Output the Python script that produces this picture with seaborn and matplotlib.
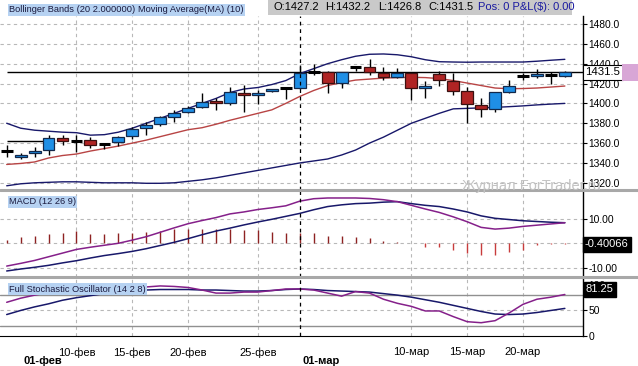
import numpy as np
import pandas as pd
import matplotlib
matplotlib.use("Agg")
import matplotlib.pyplot as plt
import matplotlib.transforms as mtrans
from matplotlib.lines import Line2D
from matplotlib.patches import Rectangle
import seaborn as sns

# ---------------- data ----------------
opens = [1352, 1346, 1350, 1353, 1364.8, 1362.4, 1362.8, 1359.4, 1360.8, 1366.8,
         1374.9, 1379.2, 1386.6, 1391.6, 1396.2, 1402.7, 1400, 1410.8, 1408.2, 1412.2,
         1415.2, 1415.2, 1431.8, 1432, 1420.3, 1437, 1437, 1430.3, 1426.3, 1430.3,
         1415.2, 1429.6, 1422.6, 1412.5, 1398.1, 1394, 1411.8, 1427.6, 1427.6, 1429, 1427.2]
highs = [1358, 1349.7, 1355.8, 1368, 1368, 1368, 1366.5, 1360, 1367, 1376.5,
         1381.6, 1387.3, 1393.4, 1397.4, 1410.2, 1405.1, 1416.8, 1418.5, 1413.5, 1415,
         1416.2, 1438.7, 1439.7, 1433, 1431.8, 1437.7, 1444.4, 1436.4, 1435.4, 1430.8,
         1422.9, 1432.6, 1430.3, 1416.8, 1405.1, 1411.8, 1423.6, 1431, 1434.4, 1432, 1432.2]
lows = [1346, 1344.3, 1345.7, 1348, 1358, 1351.3, 1354.8, 1353.7, 1357, 1363.8,
        1368.2, 1377.2, 1381.6, 1390, 1395.5, 1393.4, 1398.4, 1391.6, 1399.4, 1411,
        1404.1, 1414.2, 1428.6, 1410.2, 1415.2, 1433, 1428.6, 1423.6, 1425.3, 1403,
        1405.1, 1417.8, 1408.5, 1380.6, 1386.6, 1391.6, 1410.2, 1423.6, 1425.3, 1419.2, 1426.8]
closes = [1352, 1348.3, 1352.4, 1364.8, 1362, 1362.4, 1357.8, 1359.4, 1365.8, 1373.9,
          1377.9, 1386, 1390.6, 1395.4, 1401.7, 1400, 1411.8, 1408.2, 1410.8, 1414.2,
          1415.2, 1430.3, 1431.8, 1420.3, 1431.3, 1437, 1431.3, 1426.3, 1430.3, 1415.2,
          1417.8, 1423.6, 1412.8, 1399.1, 1394, 1411.2, 1417.8, 1427.6, 1429.6, 1429, 1431.5]

bb_upper = [1380, 1375, 1373, 1372, 1371, 1370.5, 1368, 1368.5, 1371, 1375,
            1380, 1385, 1390, 1395, 1400, 1405, 1411, 1414.5, 1416, 1419,
            1423, 1430, 1435, 1440, 1444, 1447.5, 1449.5, 1449.8, 1449, 1447,
            1444, 1442, 1441.7, 1441.5, 1441.7, 1441.7, 1441.7, 1441.7, 1442.5, 1443.5, 1444.4]
bb_lower = [1317, 1319, 1320, 1320.5, 1321, 1321, 1320.5, 1320, 1320, 1320,
            1319.5, 1319.5, 1320, 1321.5, 1323, 1325, 1327.5, 1330, 1332.5, 1335,
            1337.5, 1340, 1342, 1344, 1348, 1353, 1360, 1366, 1373, 1380,
            1385, 1390, 1394.5, 1395, 1395.5, 1396, 1396.7, 1397.5, 1398.5, 1399.3, 1400]
ma10 = [1338.5, 1339.5, 1341, 1345, 1347.5, 1349, 1352, 1354.5, 1357, 1360,
        1363, 1366.5, 1370, 1373.5, 1375.5, 1379, 1383, 1386.5, 1390, 1393.5,
        1400, 1407, 1413, 1418, 1421, 1423.5, 1424.5, 1425.5, 1426, 1426.3,
        1426, 1425, 1423, 1420.5, 1418, 1415.5, 1414.8, 1415, 1415.5, 1416.5, 1417.5]

macd = [-9.3, -8.2, -7.0, -5.5, -4.0, -2.5, -1.6, -0.8, 0.0, 1.3,
        2.7, 4.5, 6.3, 8.0, 9.3, 10.5, 12.0, 12.8, 13.8, 14.5,
        15.3, 17.2, 18.2, 18.5, 18.5, 18.5, 18.3, 17.8, 17.0, 15.5,
        14.0, 12.6, 10.8, 8.8, 6.5, 5.8, 6.2, 6.9, 7.4, 7.9, 8.4]
signal = [-11.3, -10.5, -9.8, -9.0, -8.0, -7.1, -6.0, -5.0, -4.2, -3.3,
          -2.2, -0.9, 0.4, 1.9, 3.5, 5.0, 6.2, 7.5, 8.7, 9.8,
          11.0, 12.2, 13.7, 15.0, 15.7, 16.2, 16.4, 16.8, 17.0, 16.2,
          15.5, 15.0, 14.0, 12.8, 11.2, 10.2, 9.7, 9.2, 8.9, 8.6, 8.4]
hist = [1.4, 2.4, 3.0, 3.8, 4.4, 5.2, 3.8, 3.8, 4.1, 4.4,
        4.8, 5.2, 5.7, 5.7, 5.7, 5.7, 5.7, 5.4, 5.4, 4.8,
        4.4, 4.4, 4.4, 3.1, 3.1, 2.7, 2.0, 1.0, 0.4, 0.1,
        -1.4, -1.6, -2.7, -4.1, -4.9, -4.8, -3.5, -2.7, -0.7, -0.3, -0.40066]

stoch_k = [66, 74, 80, 85, 89, 92, 94, 95, 95, 95,
           96, 98, 97, 95, 90, 84, 84, 86, 86, 89,
           92, 92, 90, 84, 78, 87, 84, 72, 64, 58,
           49, 49, 38, 28, 26, 30, 45, 62, 72, 76, 81.25]
stoch_d = [42, 50, 57, 63, 70, 75, 79, 83, 86, 88,
           90, 91, 91, 91, 90, 90, 89, 88, 88, 89,
           91, 92, 91, 89, 88, 87, 86, 83, 80, 76,
           71, 66, 60, 54, 48, 43, 42, 43, 46, 50, 54]

date_tick_idx = [5, 9, 13, 18, 29, 33, 37]
date_tick_labels = ["10-фев", "15-фев", "20-фев", "25-фев", "10-мар", "15-мар", "20-мар"]
month_idx = [1, 21]
month_labels = ["01-фев", "01-мар"]
price_ticks = [1320, 1340, 1360, 1380, 1400, 1420, 1440, 1460, 1480]
macd_ticks = [-10, 10]
stoch_ticks = [0, 50, 100]
level_line = (1362, 0, 2.6)   # price, from index, to index

# ---------------- style ----------------
sns.set_style("white")
plt.rcParams['font.family'] = ['Liberation Sans', 'DejaVu Sans']

W, H = 638, 366
fig = plt.figure(figsize=(W / 100, H / 100), dpi=100)
fig.patch.set_facecolor("white")

def fy(y):
    return 1 - y / H

axw = 583 / W
ax = fig.add_axes([0, fy(190), axw, (190 - 16) / H])
axm = fig.add_axes([0, fy(277), axw, (277 - 190) / H])
axs = fig.add_axes([0, fy(336), axw, (336 - 277) / H])

idx = np.arange(len(opens))
o = np.array(opens); c = np.array(closes); hi = np.array(highs); lo = np.array(lows)
XL = (-0.48, 41.3)

NAVY = "#18186a"
PURPLE = "#85208a"
GRID = "#b8b8b8"
DASH = (0, (3, 3))

for a in (ax, axm, axs):
    a.set_facecolor("white")
    a.set_xlim(*XL)
    for s in ("left", "top", "bottom"):
        a.spines[s].set_visible(False)
    a.spines["right"].set_visible(True)
    a.spines["right"].set_color("black")
    a.spines["right"].set_linewidth(1)
    a.yaxis.tick_right()
    a.tick_params(axis="y", direction="out", length=3, width=0.8, pad=1,
                  labelsize=7.4, colors="black")
    a.tick_params(axis="x", length=0, labelbottom=False)
    for t in date_tick_idx:
        a.axvline(t, color=GRID, lw=0.8, ls=DASH, zorder=1)
    a.axvline(month_idx[1], color="black", lw=0.9, ls=DASH, zorder=6)

# ---- main panel ----
ax.set_ylim(1312.75, 1488.06)
ax.set_yticks(price_ticks)
ax.set_yticklabels([f"{v:.1f}" for v in price_ticks])
for v in price_ticks:
    ax.axhline(v, color=GRID, lw=0.8, ls=DASH, zorder=1)

ax.hlines(closes[-1], 0, XL[1], color="black", lw=1, zorder=2)
ax.hlines(level_line[0], level_line[1], level_line[2], color="black", lw=1, zorder=2)

sns.lineplot(x=idx, y=bb_upper, ax=ax, color=NAVY, lw=1, zorder=3, legend=False)
sns.lineplot(x=idx, y=bb_lower, ax=ax, color=NAVY, lw=1, zorder=3, legend=False)
sns.lineplot(x=idx, y=ma10, ax=ax, color="#b84444", lw=1, zorder=3, legend=False)

ax.vlines(idx, lo, hi, color="black", lw=1, zorder=4)
up = c > o
dn = c < o
dj = c == o
bot = np.minimum(o, c)
hgt = np.abs(c - o)
ax.bar(idx[up], hgt[up], bottom=bot[up], width=0.85, color="#1f8fe6",
       edgecolor="#13284a", linewidth=0.9, zorder=5)
ax.bar(idx[dn], hgt[dn], bottom=bot[dn], width=0.85, color="#b02424",
       edgecolor="#3a1010", linewidth=0.9, zorder=5)
ax.hlines(c[dj], idx[dj] - 0.42, idx[dj] + 0.42, color="black", lw=2.2, zorder=5)

tr = mtrans.blended_transform_factory(ax.transAxes, ax.transData)
ax.text(1.004, closes[-1], f"{closes[-1]:.1f}", transform=tr, ha="left", va="center",
        fontsize=8.2, color="black", zorder=10,
        bbox=dict(boxstyle="square,pad=0.22", facecolor="white", edgecolor="black", lw=0.8))
fig.add_artist(Rectangle((622 / W, fy(81)), 16 / W, 17 / H, transform=fig.transFigure,
                         facecolor="#d8a6d6", edgecolor="none", zorder=9))

# ---- MACD panel ----
axm.set_ylim(-13.76, 21.76)
axm.set_yticks(macd_ticks)
axm.set_yticklabels([f"{v:.2f}" for v in macd_ticks])
for v in (-10, 0, 10):
    axm.axhline(v, color=GRID, lw=0.8, ls=DASH, zorder=1)
hist_arr = np.array(hist)
axm.vlines(idx[hist_arr >= 0], 0, hist_arr[hist_arr >= 0], color="#8e2222", lw=1, zorder=3)
axm.vlines(idx[hist_arr < 0], 0, hist_arr[hist_arr < 0], color="#c83c3c", lw=1, zorder=3)
sns.lineplot(x=idx, y=signal, ax=axm, color=NAVY, lw=1.1, zorder=4, legend=False)
sns.lineplot(x=idx, y=macd, ax=axm, color=PURPLE, lw=1.1, zorder=4, legend=False)
trm = mtrans.blended_transform_factory(axm.transAxes, axm.transData)
axm.text(1.003, hist[-1], f"{hist[-1]:.5f}", transform=trm, ha="left", va="center",
         fontsize=8, color="white", zorder=10,
         bbox=dict(boxstyle="square,pad=0.2", facecolor="black", edgecolor="black"))

# ---- Stochastic panel ----
axs.set_ylim(0, 115.5)
axs.set_yticks(stoch_ticks)
axs.set_yticklabels([str(v) for v in stoch_ticks])
axs.axhline(50, color=GRID, lw=0.8, ls=DASH, zorder=1)
axs.axhline(80, color="#909090", lw=1, zorder=1)
axs.axhline(20, color="#909090", lw=1, zorder=1)
sns.lineplot(x=idx, y=stoch_d, ax=axs, color=NAVY, lw=1.1, zorder=4, legend=False)
sns.lineplot(x=idx, y=stoch_k, ax=axs, color=PURPLE, lw=1.1, zorder=4, legend=False)
trs = mtrans.blended_transform_factory(axs.transAxes, axs.transData)
axs.text(1.005, stoch_k[-1], f"{stoch_k[-1]:.2f}", transform=trs, ha="left", va="bottom",
         fontsize=8, color="white", zorder=10,
         bbox=dict(boxstyle="square,pad=0.2", facecolor="black", edgecolor="black"))

axs.spines["bottom"].set_visible(True)
axs.spines["bottom"].set_color("black")
axs.set_xticks(idx, minor=True)
axs.set_xticks(date_tick_idx)
axs.set_xticklabels(date_tick_labels)
axs.tick_params(axis="x", which="major", length=5, width=0.8, pad=3, labelsize=8,
                labelbottom=True, colors="black", direction="out")
axs.tick_params(axis="x", which="minor", length=2.5, width=0.8, direction="out")
trx = mtrans.blended_transform_factory(axs.transData, axs.transAxes)
for i, lab in zip(month_idx, month_labels):
    axs.text(i + 0.2, -0.42, lab, transform=trx, ha="left", va="center",
             fontsize=8, fontweight="bold", color="black")

# ---- separators ----
for yy in (190, 277):
    fig.add_artist(Line2D([0, 1], [fy(yy), fy(yy)], transform=fig.transFigure,
                          color="#a8a8a8", lw=2.2, zorder=8))

# ---- legends / header ----
lbl_bg = dict(boxstyle="square,pad=0.15", facecolor="#b6d2f2", edgecolor="none")
fig.text(9 / W, fy(10), "Bollinger Bands (20 2.000000)", fontsize=6.7, color="#1c1c40",
         ha="left", va="center", bbox=lbl_bg, zorder=12)
fig.text(138 / W, fy(10), "Moving Average(MA) (10)", fontsize=6.7, color="#1c1c40",
         ha="left", va="center", bbox=lbl_bg, zorder=12)
fig.text(9 / W, fy(202), "MACD (12 26 9)", fontsize=6.7, color="#1c1c40",
         ha="left", va="center", bbox=lbl_bg, zorder=12)
fig.text(9 / W, fy(289), "Full Stochastic Oscillator (14 2 8)", fontsize=6.7, color="#1c1c40",
         ha="left", va="center", bbox=lbl_bg, zorder=12)

fig.add_artist(Rectangle((268 / W, fy(15)), (572 - 268) / W, 15 / H, transform=fig.transFigure,
                         facecolor="#c9c9c9", edgecolor="none", zorder=11))
hdr = [("O:1427.2", 273, "black"), ("H:1432.2", 325, "black"), ("L:1426.8", 378, "black"),
       ("C:1431.5", 428, "black"), ("Pos: 0 P&L($): 0.00", 478, "#1a1aa0")]
for t, xx, col in hdr:
    fig.text(xx / W, fy(7.5), t, fontsize=8, color=col, ha="left", va="center", zorder=12)

fig.text(462 / W, fy(186), "Журнал ForTrader.ru", fontsize=10.5, color="#c4c4c4",
         ha="left", va="center", zorder=13)

fig.savefig("out.png", dpi=100, facecolor="white")
